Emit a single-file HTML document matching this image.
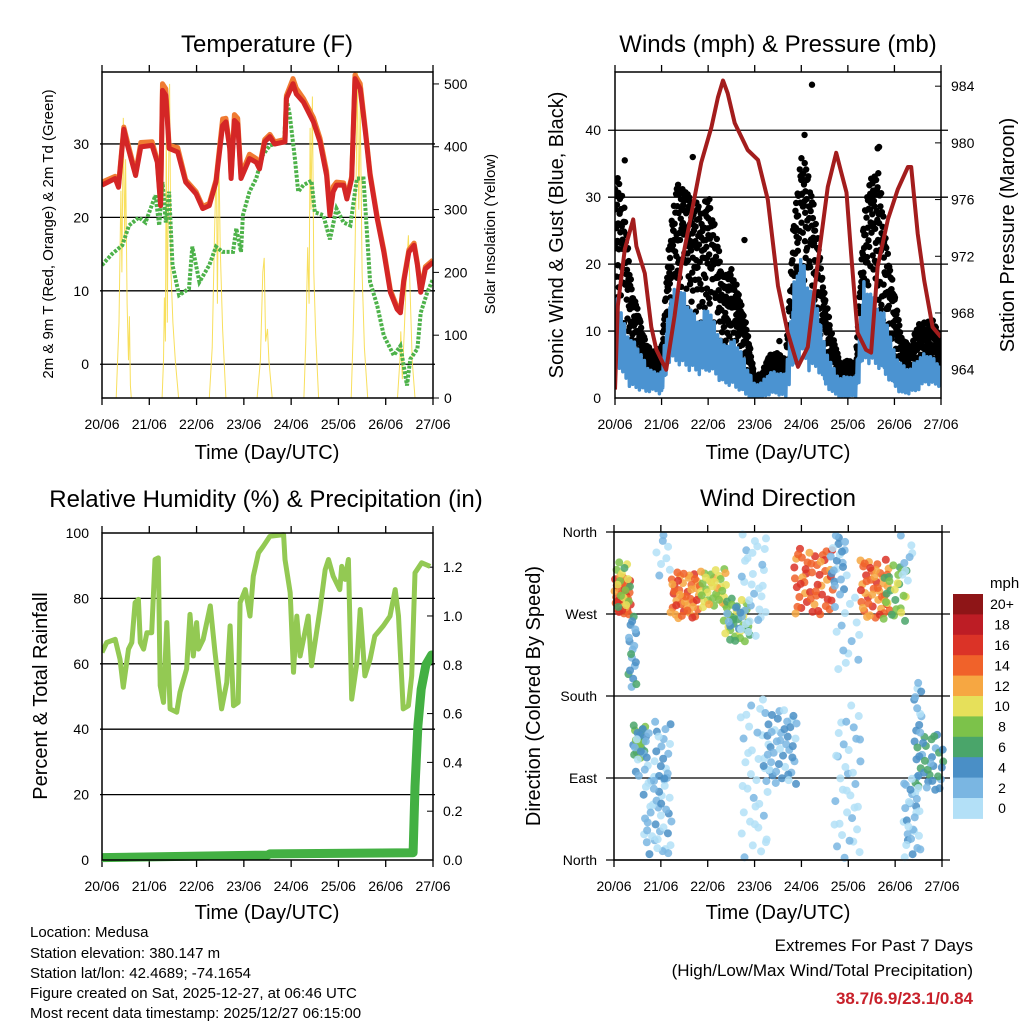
<!DOCTYPE html>
<html><head><meta charset="utf-8"><style>
body{margin:0;background:#fff;}
svg{display:block;font-family:"Liberation Sans",sans-serif;}
</style></head><body>
<svg id="chart" width="1024" height="1024" viewBox="0 0 1024 1024" xmlns="http://www.w3.org/2000/svg">
<rect width="1024" height="1024" fill="#fff"/>
<g id="layer"></g>
<g id="texts" font-family="Liberation Sans, sans-serif">
<text x="267" y="52" font-size="24" text-anchor="middle">Temperature (F)</text>
<text x="778" y="52" font-size="24" text-anchor="middle">Winds (mph) &amp; Pressure (mb)</text>
<text x="266" y="507" font-size="24" text-anchor="middle">Relative Humidity (%) &amp; Precipitation (in)</text>
<text x="778" y="506" font-size="24" text-anchor="middle">Wind Direction</text>
<text x="267" y="459" font-size="20" text-anchor="middle">Time (Day/UTC)</text>
<text x="778" y="459" font-size="20" text-anchor="middle">Time (Day/UTC)</text>
<text x="267" y="919" font-size="20" text-anchor="middle">Time (Day/UTC)</text>
<text x="778" y="919" font-size="20" text-anchor="middle">Time (Day/UTC)</text>
<text transform="translate(53,234) rotate(-90)" font-size="15" text-anchor="middle">2m &amp; 9m T (Red, Orange) &amp; 2m Td (Green)</text>
<text transform="translate(495,234) rotate(-90)" font-size="15" text-anchor="middle">Solar Insolation (Yellow)</text>
<text transform="translate(563,235) rotate(-90)" font-size="20" text-anchor="middle">Sonic Wind &amp; Gust (Blue, Black)</text>
<text transform="translate(1014,235) rotate(-90)" font-size="20" text-anchor="middle">Station Pressure (Maroon)</text>
<text transform="translate(47,696) rotate(-90)" font-size="20" text-anchor="middle">Percent &amp; Total Rainfall</text>
<text transform="translate(540,696) rotate(-90)" font-size="20" text-anchor="middle">Direction (Colored By Speed)</text>
<text x="990" y="588" font-size="15">mph</text>
<g font-size="15">
<text x="30" y="937">Location: Medusa</text>
<text x="30" y="958">Station elevation: 380.147 m</text>
<text x="30" y="978">Station lat/lon: 42.4689; -74.1654</text>
<text x="30" y="998">Figure created on Sat, 2025-12-27, at 06:46 UTC</text>
<text x="30" y="1018">Most recent data timestamp: 2025/12/27 06:15:00</text>
</g>
<text x="973" y="951" font-size="17" text-anchor="end">Extremes For Past 7 Days</text>
<text x="973" y="976" font-size="17" text-anchor="end">(High/Low/Max Wind/Total Precipitation)</text>
<text x="973" y="1004" font-size="17" font-weight="bold" fill="#c8202a" text-anchor="end">38.7/6.9/23.1/0.84</text>
</g>
</svg>
<script>
// ---- data ----
const dayLabels = ["20/06","21/06","22/06","23/06","24/06","25/06","26/06","27/06"];
const tempTicks = [0,10,20,30];
const solarTicks = [0,100,200,300,400,500];
const windTicks = [0,10,20,30,40];
const pressTicks = [964,968,972,976,980,984];
const rhTicks = [0,20,40,60,80,100];
const precipTicks = [0.0,0.2,0.4,0.6,0.8,1.0,1.2];
const dirTicks = [0,90,180,270,360];
const dirLabels = ["North","East","South","West","North"];
const speedBins = ["0","2","4","6","8","10","12","14","16","18","20+"];
const speedColors = ["#b3e0f7","#7ab6e2","#4a8fc6","#4aa56a","#7cc24a","#e6e05a","#f6a742","#f0622a","#db3327","#bd1d25","#8e1517"];

const redT = [0,.28,.35,.46,.53,.71,.82,1.06,1.17,1.24,1.28,1.35,1.42,1.6,1.77,1.99,2.13,2.27,2.41,2.55,2.62,2.7,2.73,2.8,2.87,2.94,3.12,3.26,3.33,3.44,3.55,3.65,3.87,3.9,4.04,4.11,4.26,4.47,4.61,4.75,4.82,4.89,4.96,5.11,5.18,5.28,5.35,5.46,5.57,5.67,5.82,5.96,6.1,6.24,6.31,6.38,6.49,6.6,6.67,6.74,6.84,7.0];
const redV = [24.4,25.3,24.1,32,30,25.7,29.6,29.8,27.5,21.6,37.3,36.6,29.4,28.9,24.8,23.2,21.2,21.6,24.8,32.5,33,29.4,25.3,33.2,32.7,25.3,28,27.5,26.6,30.3,31,30,30.3,36.2,38.2,36.8,35.7,33,30.3,25.7,20.3,23.5,24.4,24.4,22.5,25.3,38.9,37.5,31.6,25.7,19.8,15.3,9.8,7.5,7,11.2,15.3,16.2,13.5,9.8,13,13.9];
const orangeV = [24.8,25.6,24.4,32.3,30.5,26,30.2,30.3,27.8,21.9,38.2,37.5,29.8,29.5,25.1,23.5,21.5,21.9,25.1,33.4,33.5,29.8,25.6,34,33.5,25.8,28.6,28,27,30.6,31.3,30.3,30.6,36.6,38.9,37.6,36.2,33.6,30.8,26.3,20.8,24.2,24.8,24.7,22.8,25.6,39.4,38.2,32,26,20.1,15.6,10.1,7.8,7.3,11.5,15.6,16.5,13.8,10.1,13.3,14.2];
const greenT = [0,.21,.43,.57,.78,.92,1.13,1.21,1.28,1.35,1.42,1.49,1.63,1.84,1.91,2.06,2.27,2.41,2.55,2.77,2.84,2.94,2.98,3.12,3.26,3.4,3.55,3.85,3.9,3.97,4.08,4.15,4.26,4.43,4.5,4.68,4.82,4.96,5.11,5.25,5.39,5.53,5.67,5.82,5.96,6.17,6.31,6.45,6.52,6.67,6.74,6.88,7.0];
const greenV = [13.5,15,16.2,18.9,20,19.3,23,18.9,24.8,19.3,23.5,13.5,9.4,10.3,16,11.2,13.5,16,15.3,15.3,18.5,15.3,20.3,23.5,25.3,28.5,29.8,30.3,36.2,34,28,23.5,24.4,25,20.7,20.3,17,21.2,19.3,18.9,25.3,25.3,11.2,8,3.9,1.2,2.5,-2.9,0.7,2.1,7,9.8,11.6];
const solarT = [0.30,0.36,0.40,0.42,0.45,0.48,0.50,0.53,0.56,0.58,0.60,0.62,1.27,1.30,1.32,1.34,1.36,1.38,1.40,1.43,1.46,1.50,1.55,1.62,2.27,2.33,2.38,2.42,2.44,2.47,2.50,2.55,2.62,3.28,3.35,3.40,3.43,3.46,3.50,3.53,3.60,4.27,4.31,4.35,4.38,4.40,4.42,4.45,4.48,4.52,4.58,5.27,5.31,5.35,5.38,5.40,5.43,5.46,5.50,5.55,5.62,6.25,6.30,6.32,6.35,6.40,6.45,6.48,6.52,6.56,6.62];
const solarV = [0,120,330,200,446,250,380,150,60,130,20,0,0,60,160,90,440,120,300,500,200,120,60,0,0,80,260,380,150,400,240,110,0,0,60,200,223,90,110,60,0,0,90,240,150,430,300,480,200,100,0,0,100,230,380,520,300,470,200,80,0,0,60,106,30,120,220,259,160,60,0];

const pressT = [0,.06,.21,.39,.46,.64,.78,.89,1.1,1.28,1.42,1.64,1.85,2.07,2.21,2.32,2.42,2.57,2.85,3.07,3.28,3.5,3.71,3.93,4.14,4.36,4.57,4.75,4.86,4.97,5.07,5.21,5.39,5.5,5.64,5.86,6.07,6.29,6.36,6.5,6.64,6.82,7.0];
const pressV = [962.6,968.5,972.5,974.6,972.7,970.8,967,965.4,964,967.8,971.3,975,978.6,981.1,983.2,984.4,983.5,981.4,979.5,978.8,976,969.9,966.6,964.2,965.6,971.7,976.9,979.3,977.9,976.5,972.2,966.6,965.4,965.2,971.3,974.6,976.7,978.3,978.3,973.6,970.3,967,966.3];
const gustHigh = [34,32,18,13,8,7,7.6,23.6,33,31,31,28,30.6,25.5,18,19.5,15.6,10.6,3,4,6.7,6.7,5.7,26.5,36.5,34,25.5,15.6,9.7,5.2,5.7,5.2,26.5,34,34,23,15.6,9,7.6,11,11.6,11.6,8.7];
const windHigh = [18,12,9,8,5,4,4,15,17,16,13,12,14,11,8,9,8,5,2,2.5,4,4,3.5,17,22,17,15,8,5,3,3.5,3,18,16,14,12,7,5,4.5,6,7,6,5];
const windLow = [6,3,1.5,1,.8,1,.5,5,5,4,4,3,4,3,2,1.5,1,0,0,0,.5,.5,0,4,6,4,4,2,.5,0,0,0,5,5,4,3,1.5,.5,.5,1,2,2,1.5];
const gustOutT = [0.21,1.67,2.78,3.53,4.07,4.23,5.64,5.67];
const gustOutV = [35.5,36,23.6,8.5,39.3,46.8,37.3,37.5];

const rhT = [0,.1,.28,.38,.45,.56,.63,.7,.77,.81,.88,.95,1.05,1.12,1.19,1.23,1.3,1.37,1.44,1.58,1.65,1.79,1.86,1.93,2.0,2.04,2.14,2.29,2.39,2.53,2.64,2.71,2.78,2.88,2.92,3.03,3.13,3.2,3.31,3.41,3.55,3.84,3.87,3.98,4.05,4.12,4.19,4.36,4.43,4.61,4.72,4.79,4.89,5.03,5.07,5.14,5.21,5.28,5.39,5.46,5.56,5.67,5.77,5.95,6.09,6.2,6.27,6.37,6.48,6.55,6.62,6.76,6.94];
const rhV = [63.5,66.5,67.5,61.4,52.8,64.5,66.5,78.7,79.7,66.5,64.5,69.5,69.5,91.9,92.4,53.3,48.2,72.6,46.2,45.2,51.3,58.4,75.1,62.4,72.6,64.5,67.5,77.7,63.5,46.2,54.3,71.6,47.2,48.2,78.7,82.7,74.6,86.8,93.9,95.9,99,99.5,91.9,81.7,57.4,74.6,62.4,74.6,59.4,76.6,88.8,91.9,86.8,82.7,89.8,85.8,91.9,49.2,60.4,76.6,56.3,61.4,68.5,71.6,74.6,82.7,74.6,46.2,47.2,56.3,87.8,90.9,89.8];
const precipT = [0,3.5,3.55,6.58,6.62,6.68,6.75,6.85,6.97];
const precipV = [0.01,0.02,0.025,0.03,0.3,0.55,0.7,0.8,0.84];

const clT0 = [0,0.05,0.3,0.41,0.41,0.63,0.84,0.9,1.2,1.84,2.34,2.4,2.7,2.7,3.19,3.83,4.62,4.69,4.69,5.26,5.75,6.1,6.4,6.4,6.18];
const clT1 = [0.38,0.35,0.48,0.7,0.75,1.23,1.23,1.2,1.84,2.4,2.9,2.9,3.26,3.33,3.9,4.69,4.97,5.26,5.26,5.9,6.25,6.4,6.57,7.04,6.54];
const clD0 = [269,275,188,112,90,5,82,300,265,276,240,250,243,2,82,269,295,203,2,265,262,302,141,75,2];
const clD1 = [313,330,269,148,150,93,155,357,317,320,287,280,360,178,166,342,357,295,170,331,324,360,196,141,93];
const clSpeed = [15,9,4,7,3,2,3,1,14,10,8,4,0.5,0.5,3,15,3,1,1.5,14,8,1,3,5,2.5];
const clCount = [30,15,18,18,14,40,18,8,45,35,30,10,30,35,45,50,20,15,35,45,25,8,10,35,30];

// ---- helpers ----
const NS = "http://www.w3.org/2000/svg";
const layer = document.getElementById('layer');
function mk(tag, attrs, name, parent){
  const el = document.createElementNS(NS, tag);
  for (const k in attrs) el.setAttribute(k, attrs[k]);
  
  
  (parent||layer).appendChild(el);
  return el;
}
function txt(x,y,s,anchor,size,name,parent){
  const t = mk('text',{x:x,y:y,'font-size':size||14,'text-anchor':anchor||'start'},name,parent);
  t.textContent = s;
  return t;
}
function lin(d0,d1,p0,p1){ return v => p0 + (v-d0)/(d1-d0)*(p1-p0); }
function frac(v){ return v - Math.floor(v); }
function pathOf(ts, vs, X, Y){ return ts.map((t,i)=>(i?'L':'M')+X(t).toFixed(1)+','+Y(vs[i]).toFixed(1)).join(''); }
// 2D low-discrepancy helpers (Halton bases 2 and 3)
function halton(i,b){ let f=1,r=0; while(i>0){ f/=b; r+=f*(i%b); i=Math.floor(i/b);} return r; }

function panelFrame(x0,x1,y0,y1,name,gridVals,Y,gx0,gx1){
  const g = mk('g',{},name+'-axes');
  gridVals.forEach(v=>{
    mk('line',{x1:gx0,x2:gx1,y1:Y(v),y2:Y(v),stroke:'#000','stroke-width':1.3},name+'-gridline',g);
  });
  for(let d=0; d<=7; d++){
    const x = x0 + d*(x1-x0)/7;
    mk('line',{x1:x,x2:x,y1:y1,y2:y1+7,stroke:'#000','stroke-width':1.3},name+'-x-tick',g);
    mk('line',{x1:x,x2:x,y1:y0,y2:y0-7,stroke:'#000','stroke-width':1.3},name+'-x-tick-top',g);
    txt(x, y1+31, dayLabels[d], 'middle', 14, name+'-x-tick-label', g);
  }
  return g;
}
function frameRect(x0,x1,y0,y1,name){
  mk('rect',{x:x0,y:y0,width:x1-x0,height:y1-y0,fill:'none',stroke:'#000','stroke-width':1.5},name+'-frame');
}
function clip(id,x0,x1,y0,y1){
  let defs = document.getElementById('defs') || mk('defs',{id:'defs'},'defs');
  const c = mk('clipPath',{id:id},id,defs);
  mk('rect',{x:x0,y:y0,width:x1-x0,height:y1-y0},id+'-rect',c);
}

// ---- Panel 1: Temperature ----
{
  const x0=102,x1=433,y0=72,y1=398;
  const X = lin(0,7,x0,x1), Y = lin(-4.6,39.8,y1,y0), YS = lin(0,519,y1,y0);
  clip('c1',x0,x1,y0,y1);
  const g = panelFrame(x0,x1,y0,y1,'temp',tempTicks,Y,x0-2,x1+2);
  tempTicks.forEach(v=>txt(x0-13,Y(v)+5,String(v),'end',14,'temp-y-tick-label',g));
  solarTicks.forEach(v=>{
    mk('line',{x1:x1,x2:x1+6,y1:YS(v),y2:YS(v),stroke:'#000'},'solar-y-tick',g);
    txt(x1+11,YS(v)+5,String(v),'start',14,'solar-y-tick-label',g);
  });
  const s = mk('g',{'clip-path':'url(#c1)'},'temp-series');
  mk('path',{d:pathOf(solarT,solarV,X,YS),fill:'none',stroke:'#f7dc4a','stroke-width':1,'stroke-opacity':0.9},'solar-line',s);
  mk('path',{d:pathOf(greenT,greenV,X,Y),fill:'none',stroke:'#4db24a','stroke-width':4,'stroke-dasharray':'3 1.5'},'dewpoint-line',s);
  mk('path',{d:pathOf(redT,orangeV,X,Y),fill:'none',stroke:'#f07b32','stroke-width':5,'stroke-linejoin':'round'},'temp-9m-line',s);
  mk('path',{d:pathOf(redT,redV,X,Y),fill:'none',stroke:'#d42626','stroke-width':5,'stroke-linejoin':'round'},'temp-2m-line',s);
  frameRect(x0,x1,y0,y1,'temp');
}

// ---- Panel 2: Winds ----
{
  const x0=615,x1=941,y0=72,y1=398;
  const X = lin(0,7,x0,x1), Y = lin(0,48.7,y1,y0), YP = lin(962,985,y1,y0);
  clip('c2',x0,x1,y0,y1);
  const g = panelFrame(x0,x1,y0,y1,'winds',windTicks.slice(1),Y,x0-7,x1+7);
  windTicks.forEach(v=>txt(x0-14,Y(v)+5,String(v),'end',14,'wind-y-tick-label',g));
  pressTicks.forEach(v=>{
    mk('line',{x1:x1,x2:x1-6,y1:YP(v),y2:YP(v),stroke:'#000'},'pressure-y-tick',g);
    txt(x1+10,YP(v)+5,String(v),'start',14,'pressure-y-tick-label',g);
  });
  const s = mk('g',{'clip-path':'url(#c2)'},'winds-series');
  const step = 7/(gustHigh.length-1);
  const dots = mk('g',{fill:'#000'},'gust-points',s);
  let idx=1;
  for(let i=0;i<gustHigh.length-1;i++){
    const n = 32;
    for(let k=0;k<n;k++){
      const f = halton(idx,2);
      const hi = gustHigh[i]+(gustHigh[i+1]-gustHigh[i])*f;
      const lo = (windHigh[i]+(windHigh[i+1]-windHigh[i])*f)*0.5;
      const q = halton(idx,3);
      const v = lo + Math.sqrt(q)*(hi-lo);
      mk('circle',{cx:X(i*step+f*step),cy:Y(v),r:3.2},'gust-point',dots);
      idx++;
    }
  }
  gustOutT.forEach((t,i)=>mk('circle',{cx:X(t),cy:Y(gustOutV[i]),r:3.2},'gust-outlier',dots));
  let d='';
  for(let i=0;i<windHigh.length-1;i++){
    const sub=14;
    for(let k=0;k<sub;k++){
      const f=k/sub;
      const hi = windHigh[i]+(windHigh[i+1]-windHigh[i])*f;
      const lo = windLow[i]+(windLow[i+1]-windLow[i])*f;
      const a = halton(i*sub+k+1,3);
      const v = (k%2===0) ? lo+(hi-lo)*0.4*a : hi-(hi-lo)*0.4*a;
      d += (d?'L':'M')+X(i*step+f*step).toFixed(1)+','+Y(v).toFixed(1);
    }
  }
  mk('path',{d:d,fill:'none',stroke:'#4b93d1','stroke-width':3.5,'stroke-linejoin':'round'},'wind-line',s);
  mk('path',{d:pathOf(pressT,pressV,X,YP),fill:'none',stroke:'#a31d1d','stroke-width':4,'stroke-linejoin':'round'},'pressure-line',s);
  frameRect(x0,x1,y0,y1,'winds');
}

// ---- Panel 3: RH & precip ----
{
  const x0=102,x1=433,y0=533,y1=860;
  const X = lin(0,7,x0,x1), Y = lin(0,100,y1,y0), YR = lin(0,1.34,y1,y0);
  clip('c3',x0,x1,y0-5,y1+5);
  const g = panelFrame(x0,x1,y0,y1,'rh',rhTicks.slice(1,5),Y,x0-2,x1+2);
  rhTicks.forEach(v=>txt(x0-13,Y(v)+5,String(v),'end',14,'rh-y-tick-label',g));
  precipTicks.forEach(v=>{
    mk('line',{x1:x1,x2:x1-6,y1:YR(v),y2:YR(v),stroke:'#000'},'precip-y-tick',g);
    txt(x1+10,YR(v)+5,v.toFixed(1),'start',14,'precip-y-tick-label',g);
  });
  const s = mk('g',{'clip-path':'url(#c3)'},'rh-series');
  mk('path',{d:pathOf(rhT,rhV,X,Y),fill:'none',stroke:'#93c953','stroke-width':5,'stroke-linejoin':'round'},'rh-line',s);
  mk('path',{d:pathOf(precipT,precipV,X,YR),fill:'none',stroke:'#43b043','stroke-width':9,'stroke-linejoin':'round','stroke-linecap':'round'},'precip-line',s);
  frameRect(x0,x1,y0,y1,'rh');
}

// ---- Panel 4: Wind direction ----
{
  const x0=614,x1=942,y0=532,y1=860;
  const X = lin(0,7,x0,x1), Y = lin(0,360,y1,y0);
  const g = panelFrame(x0,x1,y0,y1,'wd',dirTicks,Y,x0-8,x1+8);
  dirTicks.forEach((v,i)=>txt(x0-17,Y(v)+5,dirLabels[i],'end',14,'wd-y-tick-label',g));
  const s = mk('g',{'fill-opacity':0.85},'wd-points');
  const jitter=[-2,0,2,-1,1];
  let idx=1;
  for(let c=0;c<clT0.length;c++){
    for(let k=0;k<clCount[c];k++){
      const t = clT0[c]+halton(idx,2)*(clT1[c]-clT0[c]);
      const dir = clD0[c]+halton(idx,3)*(clD1[c]-clD0[c]);
      idx++;
      const spd = Math.max(0, clSpeed[c]+jitter[k%5]);
      const bin = Math.min(10, Math.floor(spd/2));
      mk('circle',{cx:X(t),cy:Y(dir),r:4,fill:speedColors[bin]},'wd-point',s);
    }
  }
  frameRect(x0,x1,y0,y1,'wd');
  const cb = mk('g',{},'speed-colorbar');
  const bx=953,bw=30,by=594,bh=20.4;
  for(let i=0;i<speedBins.length;i++){
    const bi = speedBins.length-1-i;
    mk('rect',{x:bx,y:by+i*bh,width:bw,height:bh+0.5,fill:speedColors[bi]},'colorbar-box',cb);
    txt(1002,by+i*bh+bh/2+5,speedBins[bi],'middle',14,'colorbar-label',cb);
  }
}
</script>
</body></html>
